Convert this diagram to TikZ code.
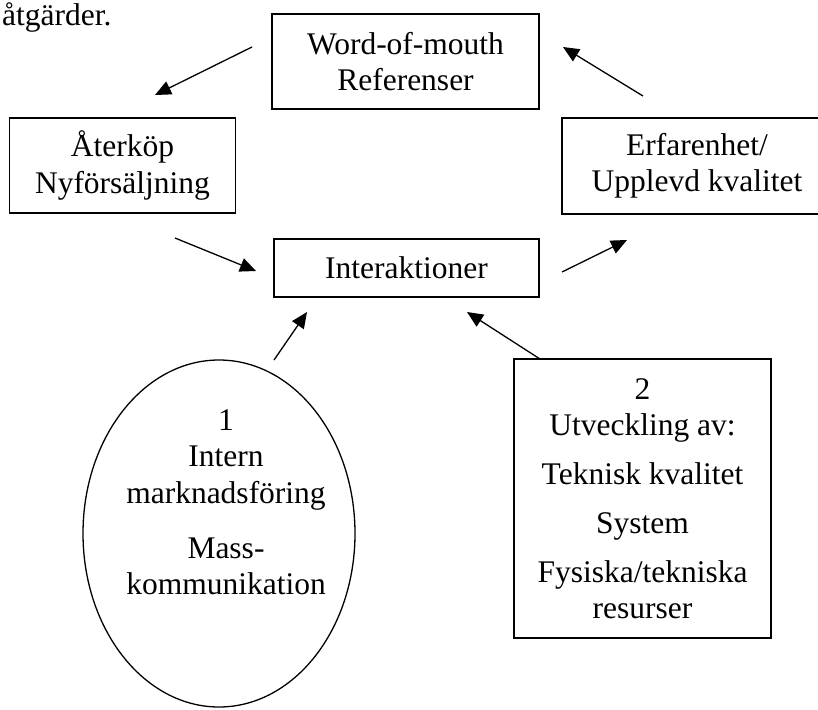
\documentclass[tikz,border=0pt]{standalone}
\usepackage{fontspec}
\setmainfont{Liberation Serif}
\usetikzlibrary{arrows.meta,shapes.geometric}

\begin{document}
\begin{tikzpicture}[x=1pt,y=-1pt,
        font=\fontsize{31.5}{36.5}\selectfont,
        box/.style={draw,line width=1.5pt,align=center,inner sep=0pt},
        arr/.style={-{Triangle[length=16pt,width=14pt]},line width=1.3pt}]
    \useasboundingbox (0,0) rectangle (818,709);

    \node[anchor=base west,inner sep=0pt] (note) at (2,26) {åtgärder.};
    \node[box,minimum width=267pt,minimum height=95pt] (word) at (405.5,61.5) {Word-of-mouth\\Referenser};
    \node[box,minimum width=226pt,minimum height=95pt] (rebuy) at (122.5,165.5) {Återköp\\Nyförsäljning};
    \node[box,minimum width=270pt,minimum height=96pt] (exp) at (697,166) {Erfarenhet/\\Upplevd kvalitet};
    \node[box,minimum width=265pt,minimum height=58pt] (inter) at (406.5,268) {Interaktioner};
    \node[box,minimum width=257pt,minimum height=279pt] (dev) at (642.5,498.5)
        {2\\Utveckling av:\\[12.5pt]Teknisk kvalitet\\[12pt]System\\[12.5pt]Fysiska/tekniska\\resurser};
    \node[draw,ellipse,line width=1.3pt,minimum width=272pt,minimum height=347pt,inner sep=0pt] (intern) at (219,533.5) {};
    \node[align=center,inner sep=0pt] (internText) at (226,502)
        {1\\Intern\\marknadsföring\\[18.5pt]Mass-\\kommunikation};

    % free-standing arrows
    \coordinate (expOut) at (643,96);   \coordinate (wordIn) at (563,47);
    \coordinate (wordOut) at (252,47);  \coordinate (rebuyIn) at (155,95);
    \coordinate (rebuyOut) at (175,238); \coordinate (interInL) at (256,271);
    \coordinate (interOut) at (562,272); \coordinate (expIn) at (627,240);
    \coordinate (internOut) at (274,360); \coordinate (interInB) at (307,312);
    \coordinate (devOut) at (540,359);  \coordinate (interInR) at (467,312);

    \draw[arr] (expOut) -- (wordIn);
    \draw[arr] (wordOut) -- (rebuyIn);
    \draw[arr] (rebuyOut) -- (interInL);
    \draw[arr] (interOut) -- (expIn);
    \draw[arr] (internOut) -- (interInB);
    \draw[arr] (devOut) -- (interInR);
\end{tikzpicture}
\end{document}
